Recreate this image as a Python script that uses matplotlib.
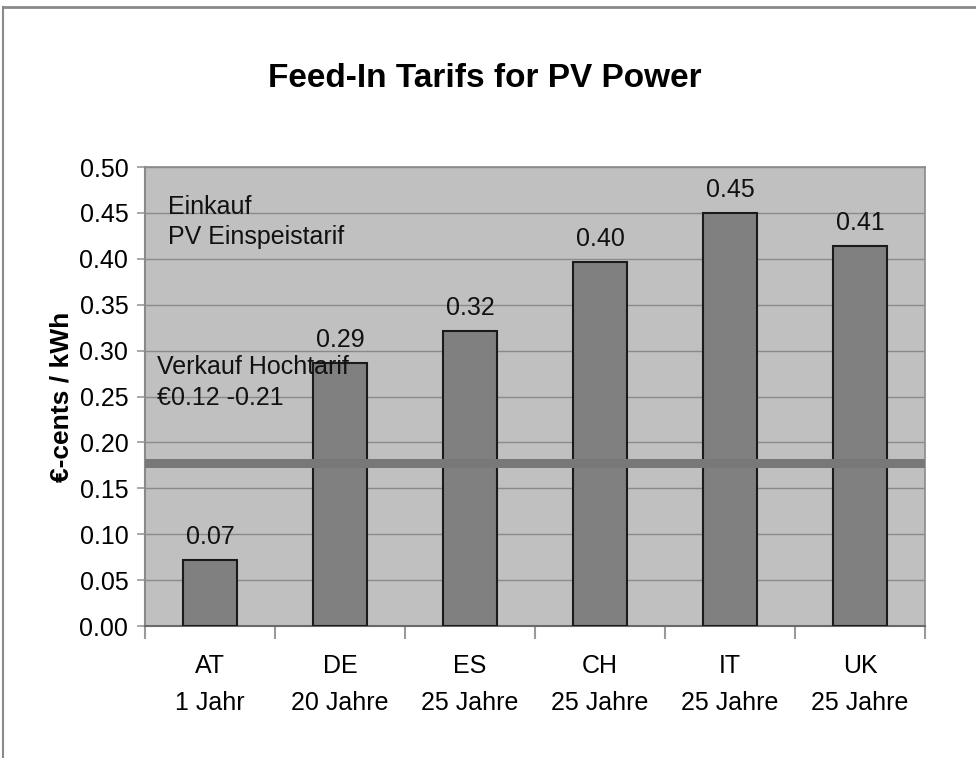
import matplotlib
matplotlib.use("Agg")
import matplotlib.pyplot as plt
from matplotlib import font_manager
from matplotlib.lines import Line2D
import numpy as np

# data
countries = ["AT", "DE", "ES", "CH", "IT", "UK"]
durations = ["1 Jahr", "20 Jahre", "25 Jahre", "25 Jahre", "25 Jahre", "25 Jahre"]
tariffs = [0.072, 0.287, 0.321, 0.397, 0.450, 0.414]
sell_price = 0.178  # Verkauf Hochtarif line

names = {f.name for f in font_manager.fontManager.ttflist}
narrow = "Liberation Sans Narrow" if "Liberation Sans Narrow" in names else "Liberation Sans"
plt.rcParams["font.family"] = [narrow, "DejaVu Sans"]

fig = plt.figure(figsize=(9.76, 7.58), dpi=100)
ax = fig.add_axes([0.1486, 0.1741, 0.7992, 0.6055])
ax.set_facecolor("#c0c0c0")

x = np.arange(len(countries))
bars = ax.bar(x, tariffs, width=0.42, color="#808080", edgecolor="#1a1a1a",
              linewidth=1.5, zorder=3)
for b, v in zip(bars, tariffs):
    ax.text(b.get_x() + b.get_width() / 2, v + 0.012, f"{v:.2f}",
            ha="center", va="bottom", fontsize=18, color="#111111", zorder=4)

ax.axhline(sell_price, color="#787878", linewidth=6.5, zorder=4)

ax.set_xlim(-0.5, len(countries) - 0.5)
ax.set_ylim(0, 0.5)
ax.set_yticks(np.arange(0, 0.501, 0.05))
ax.set_yticklabels([f"{t:.2f}" for t in np.arange(0, 0.501, 0.05)], fontsize=18)
ax.yaxis.grid(True, color="#8a8a8a", linewidth=1.0, zorder=1)
ax.set_axisbelow(True)

ax.set_xticks(x)
ax.set_xticklabels([f"{c}\n{d}" for c, d in zip(countries, durations)],
                   fontsize=18, linespacing=1.7)
ax.tick_params(axis="x", length=0, pad=20)
ax.set_xticks(np.arange(-0.5, len(countries)), minor=True)
ax.tick_params(axis="x", which="minor", length=9, color="#9a9a9a", width=1.5)
ax.tick_params(axis="y", length=6, color="#9a9a9a", width=1.2, pad=6)

for s in ["top", "right"]:
    ax.spines[s].set_color("#8a8a8a")
    ax.spines[s].set_linewidth(1.2)
ax.spines["left"].set_color("#8a8a8a")
ax.spines["left"].set_linewidth(1.5)
ax.spines["bottom"].set_color("#6a6a6a")
ax.spines["bottom"].set_linewidth(1.5)

ax.set_ylabel("€-cents / kWh", fontsize=19, fontweight="bold", labelpad=4)

ax.text(0.03, 0.94, "Einkauf\nPV Einspeistarif", transform=ax.transAxes,
        fontsize=18, va="top", ha="left", linespacing=1.35, color="#111111", zorder=5)
ax.text(0.015, 0.59, "Verkauf Hochtarif\n€0.12 -0.21", transform=ax.transAxes,
        fontsize=18, va="top", ha="left", linespacing=1.35, color="#111111", zorder=5)

fig.text(0.497, 0.897, "Feed-In Tarifs for PV Power", ha="center", va="center",
         fontsize=24, fontweight="bold")

# thin frame at top and left edge
fig.add_artist(Line2D([0.003, 1.0], [0.991, 0.991], color="#8a8a8a", linewidth=2,
                      transform=fig.transFigure))
fig.add_artist(Line2D([0.003, 0.003], [0.0, 0.991], color="#8a8a8a", linewidth=1.5,
                      transform=fig.transFigure))

fig.savefig("out.png", dpi=100, facecolor="white")
